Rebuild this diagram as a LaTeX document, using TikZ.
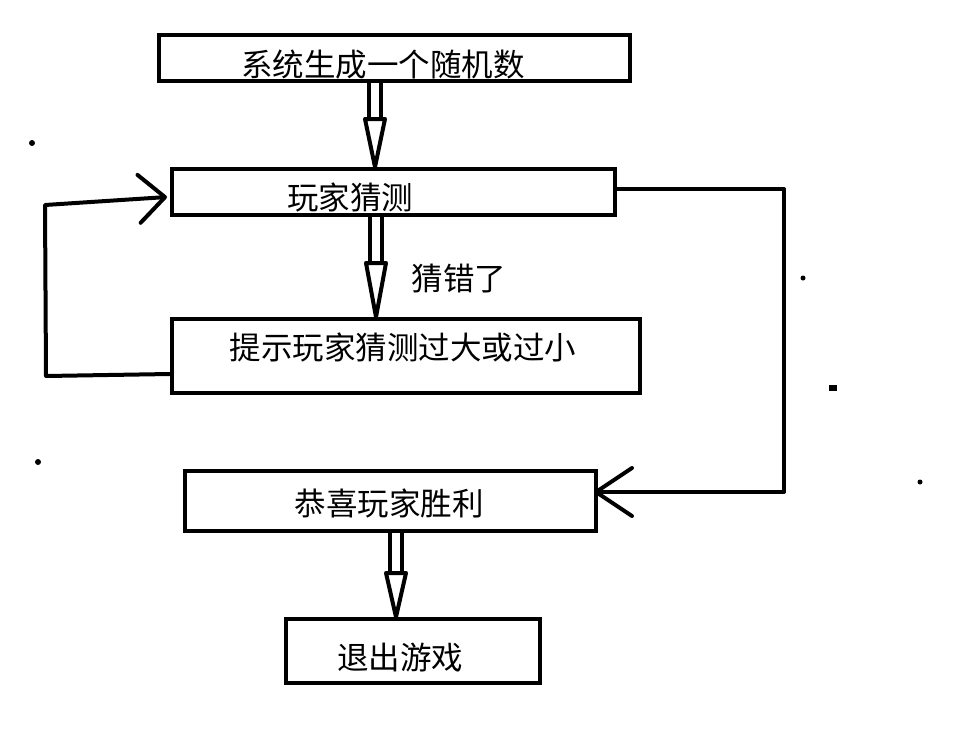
\documentclass[tikz,border=0pt]{standalone}
\usepackage{fontspec}
\setmainfont{Noto Sans CJK SC}
\usetikzlibrary{arrows.meta}

\tikzset{
  box/.style={draw, line width=4pt, rectangle, inner sep=0pt},
  txt/.style={inner sep=0pt, font=\fontsize{31.5}{36}\selectfont},
  loopline/.style={line width=4pt, line join=round,
    -{Straight Barb[length=#1, width=48pt, round]}},
  hollow/.style={line width=4pt, line join=round}
}

% hollow double arrow: from, to, x position, head length
\newcommand{\hollowarrow}[4]{%
  \path (#1.south -| #3,0) coordinate (ha top)
        (#2.north -| #3,0) coordinate (ha tip);
  \draw[hollow] ([xshift=-6]ha top) -- ([xshift=-6,yshift=#4]ha tip);
  \draw[hollow] ([xshift=6]ha top) -- ([xshift=6,yshift=#4]ha tip);
  \draw[hollow] ([xshift=-10,yshift=#4]ha tip) -- ([xshift=10,yshift=#4]ha tip)
    -- (ha tip) -- cycle;
}

\begin{document}
\begin{tikzpicture}[x=1pt, y=-1pt]
    \useasboundingbox (0,0) rectangle (964,739);

    % Boxes
    \node[box, minimum width=471, minimum height=46.5] (gen) at (394.5,57.75) {};
    \node[box, minimum width=443, minimum height=46] (guess) at (393.5,192) {};
    \node[box, minimum width=468, minimum height=74] (hint) at (406,356) {};
    \node[box, minimum width=411, minimum height=60] (win) at (390.5,501) {};
    \node[box, minimum width=254, minimum height=64] (quit) at (413,651) {};

    % Texts
    \node[txt] (gen text) at (383,65) {系统生成一个随机数};
    \node[txt] (guess text) at (350,197) {玩家猜测};
    \node[txt] (hint text) at (403,347) {提示玩家猜测过大或过小};
    \node[txt] (win text) at (389,503) {恭喜玩家胜利};
    \node[txt] (quit text) at (400,658) {退出游戏};
    \node[txt] (wrong) at (459,279) {猜错了};

    % Hollow arrows
    \hollowarrow{gen}{guess}{375}{48}
    \hollowarrow{guess}{hint}{376}{54}
    \hollowarrow{win}{quit}{396}{44}

    % Loop back to guess
    \draw[loopline=26pt] ([yshift=-18]hint.west) -- (46,376) -- (45,205)
        -- ([xshift=-3,yshift=-5]guess.west);

    % Correct guess
    \draw[loopline=36pt] ([yshift=3]guess.east) -- (784,189) -- (784,492)
        -- ([xshift=-4,yshift=9]win.east);

    % Stray dots
    \fill (32,143) circle (3);
    \fill (38,462) circle (3);
    \fill (803,278) circle (2.5);
    \fill (920,482) circle (2.5);
    \fill (829,385) rectangle (837,391);
\end{tikzpicture}
\end{document}
